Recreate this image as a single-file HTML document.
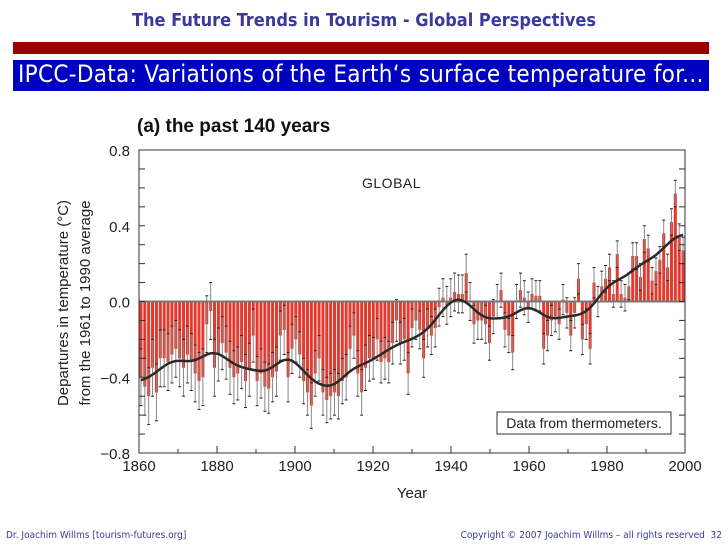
<!DOCTYPE html>
<html><head><meta charset="utf-8"><style>
body{margin:0;width:728px;height:546px;background:#fff;overflow:hidden;font-family:"Liberation Sans",sans-serif;position:relative}
.t{position:absolute;white-space:nowrap}
</style></head><body>
<div class="t" style="left:0;width:728px;top:10px;text-align:center;color:#3a3a9a;font-weight:bold;font-size:18px;font-family:'DejaVu Sans Condensed','DejaVu Sans',sans-serif;">The Future Trends in Tourism - Global Perspectives</div>
<div style="position:absolute;left:13px;top:42px;width:696px;height:12px;background:#990000"></div>
<div style="position:absolute;left:13px;top:60px;width:696px;height:31px;background:#0000c0"></div>
<div class="t" style="left:18px;top:60px;color:#fff;font-size:24px;letter-spacing:0.3px;font-family:'DejaVu Sans Condensed','DejaVu Sans',sans-serif;">IPCC-Data: Variations of the Earth‘s surface temperature for...</div>
<svg id="chart" width="728" height="546" style="position:absolute;left:0;top:0"></svg>
<div class="t" style="left:6px;top:530px;font-size:10px;color:#3a3a9a;font-family:'DejaVu Sans Condensed',sans-serif">Dr. Joachim Willms [tourism-futures.org]</div>
<div class="t" style="right:6px;top:530px;font-size:10px;color:#3a3a9a;font-family:'DejaVu Sans Condensed',sans-serif">Copyright © 2007 Joachim Willms – all rights reserved &nbsp;32</div>
<script>
const startYear = 1860;
const anomalies = [
-0.40,-0.45,-0.50,-0.35,-0.48,-0.30,-0.30,-0.32,-0.28,-0.25,
-0.30,-0.35,-0.28,-0.32,-0.38,-0.42,-0.40,-0.12,-0.05,-0.35,
-0.28,-0.22,-0.27,-0.35,-0.40,-0.38,-0.32,-0.42,-0.36,-0.18,
-0.42,-0.38,-0.45,-0.46,-0.40,-0.37,-0.18,-0.15,-0.40,-0.25,
-0.20,-0.28,-0.42,-0.48,-0.55,-0.38,-0.30,-0.48,-0.52,-0.50,
-0.48,-0.50,-0.42,-0.40,-0.25,-0.18,-0.38,-0.48,-0.35,-0.30,
-0.30,-0.20,-0.32,-0.30,-0.32,-0.22,-0.10,-0.22,-0.20,-0.38,
-0.14,-0.10,-0.15,-0.30,-0.14,-0.18,-0.14,-0.03,0.02,-0.02,
0.02,0.05,0.04,0.04,0.15,0.00,-0.12,-0.10,-0.10,-0.12,
-0.22,-0.08,0.00,0.06,-0.15,-0.18,-0.27,0.00,0.06,0.02,
-0.03,0.04,0.03,0.03,-0.25,-0.18,-0.10,-0.08,-0.12,0.01,
-0.06,-0.18,-0.06,0.12,-0.20,-0.12,-0.25,0.10,0.00,0.08,
0.12,0.18,0.04,0.25,0.04,0.02,0.08,0.24,0.24,0.13,
0.33,0.28,0.11,0.16,0.22,0.36,0.18,0.42,0.57,0.34,
0.27];
const decadeErrors = [0.15,0.15,0.14,0.13,0.12,0.12,0.11,0.10,0.10,0.09,0.08,0.08,0.07,0.07,0.07];
const yTicks = [0.8,0.4,0.0,-0.4,-0.8];
const yTickLabels = ["0.8","0.4","0.0","\u22120.4","\u22120.8"];
const xTicks = [1860,1880,1900,1920,1940,1960,1980,2000];

const NS="http://www.w3.org/2000/svg";
const svg=document.getElementById('chart');
const L=139,R=685,T=150,B=453;
const X=y=>L+(y-startYear+0.5)*(R-L)/141;
const XA=y=>L+(y-startYear)*(R-L)/140;
const Y=v=>T+(0.8-v)*(B-T)/1.6;
function mk(tag,a){const e=document.createElementNS(NS,tag);for(const k in a)e.setAttribute(k,a[k]);svg.appendChild(e);return e;}
function tx(x,y,s,a){const e=mk('text',Object.assign({x:x,y:y},a));e.textContent=s;return e;}

const ct=tx(137,132,"(a) the past 140 years",{'font-size':19,'font-weight':'bold','fill':'#111'});


anomalies.forEach((v,i)=>{
  const yr=startYear+i, x=X(yr), err=decadeErrors[Math.floor(i/10)];
  const r=mk('rect',{x:x-1.5,y:Math.min(Y(v),Y(0)),width:3,height:Math.abs(Y(v)-Y(0)),fill:'#e23a2e'});
  
  
  const eb=mk('line',{x1:x,x2:x,y1:Y(v+err),y2:Y(v-err),stroke:'#888','stroke-width':1});
  
  
  [v+err,v-err].forEach(e=>{mk('line',{x1:x-1.5,x2:x+1.5,y1:Y(e),y2:Y(e),stroke:'#222','stroke-width':1});});
});
const z=mk('line',{x1:L,x2:R,y1:Y(0),y2:Y(0),stroke:'#777','stroke-width':2});

let pts=[];
anomalies.forEach((v,i)=>{let s=0,w=0;for(let j=-12;j<=12;j++){const k=i+j;if(k<0||k>=anomalies.length)continue;const g=Math.exp(-j*j/(2*3.2*3.2));s+=g*anomalies[k];w+=g;}pts.push(X(startYear+i).toFixed(1)+','+Y(s/w).toFixed(1));});
const sm=mk('polyline',{points:pts.join(' '),fill:'none',stroke:'#2a2a2a','stroke-width':2.5});

const fr=mk('rect',{x:L,y:T,width:R-L,height:B-T,fill:'none',stroke:'#333','stroke-width':1});

for(let v=-0.8;v<=0.81;v+=0.1){const y=Y(v);mk('line',{x1:L,x2:L+6,y1:y,y2:y,stroke:'#333'});mk('line',{x1:R,x2:R-6,y1:y,y2:y,stroke:'#333'});}
yTicks.forEach((v,i)=>{const t=tx(130,Y(v)+6,yTickLabels[i],{'font-size':15,'text-anchor':'end','fill':'#222'});
});
for(let y=1860;y<=2000;y+=10){mk('line',{x1:XA(y),x2:XA(y),y1:B,y2:B-(y%20?4:7),stroke:'#333'});}
xTicks.forEach(y=>{const t=tx(XA(y),B+18,String(y),{'font-size':15,'text-anchor':'middle','fill':'#222'});
});
const xt=tx(412,498,"Year",{'font-size':15,'text-anchor':'middle','fill':'#222'});

const yt1=tx(0,0,"Departures in temperature (\u00B0C)",{'font-size':15,'text-anchor':'middle','fill':'#222',transform:'translate(68,303) rotate(-90)'});

const yt2=tx(0,0,"from the 1961 to 1990 average",{'font-size':15,'text-anchor':'middle','fill':'#222',transform:'translate(90,303) rotate(-90)'});

const gl=tx(362,188,"GLOBAL",{'font-size':14,'fill':'#222','letter-spacing':'0.5'});

const nb=mk('rect',{x:497,y:412,width:174,height:22,fill:'#fff',stroke:'#333'});

const nt=tx(584,428,"Data from thermometers.",{'font-size':14,'text-anchor':'middle','fill':'#222'});

</script>
</body></html>
